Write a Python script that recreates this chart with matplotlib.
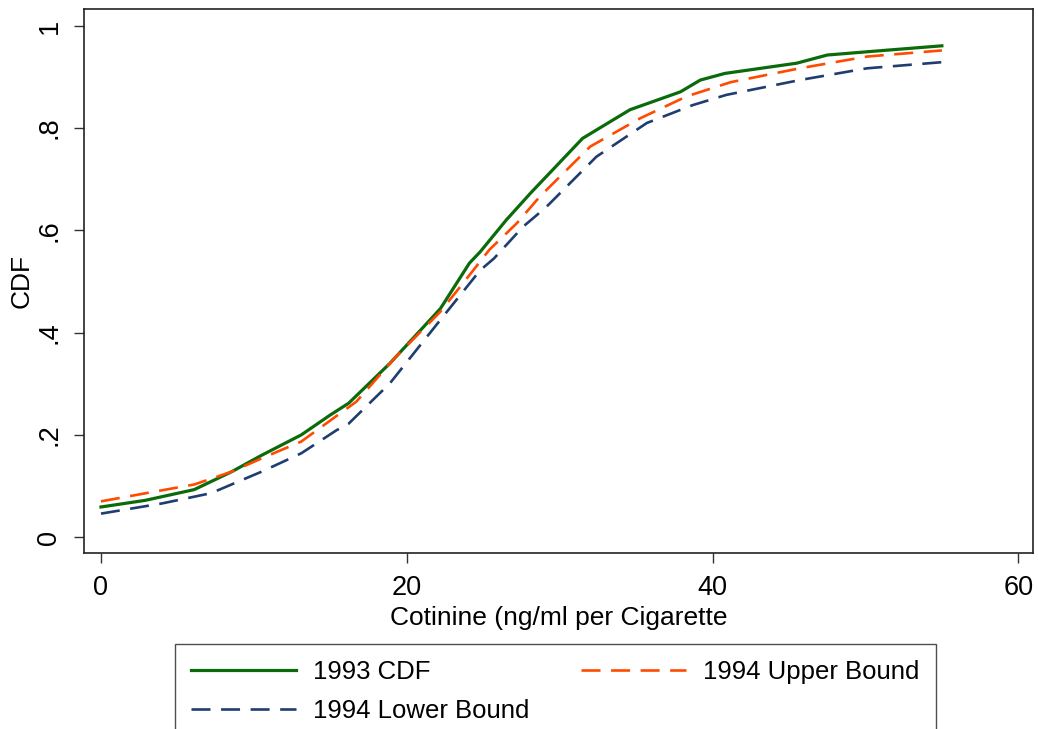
import matplotlib
matplotlib.use("Agg")
import matplotlib.pyplot as plt

# Police proche d'Arial
plt.rcParams['font.family'] = ['Liberation Sans', 'DejaVu Sans']

# Valeurs
x_1993 = [0, 2.9, 6.1, 8.55, 10.5, 13.1, 15.0, 16.2, 18.9, 22.2, 24.1, 24.8,
          26.5, 28.1, 31.5, 34.6, 37.9, 39.2, 40.8, 45.5, 47.5, 51.2, 55]
cdf_1993 = [0.059, 0.072, 0.093, 0.128, 0.160, 0.200, 0.239, 0.262, 0.340,
            0.447, 0.536, 0.558, 0.620, 0.673, 0.780, 0.836, 0.871, 0.894,
            0.907, 0.927, 0.943, 0.952, 0.961]

x_upper = [0, 3.5, 6.1, 8.55, 10.5, 13.1, 16.7, 19.3, 22.2, 24.35, 25.4,
           27.2, 28.7, 32.0, 35.25, 38.3, 41.2, 45.7, 50.1, 55]
cdf_upper = [0.070, 0.089, 0.103, 0.128, 0.154, 0.187, 0.265, 0.353, 0.441,
             0.522, 0.562, 0.614, 0.666, 0.764, 0.819, 0.862, 0.890, 0.917,
             0.940, 0.952]

x_lower = [0, 4.0, 7.2, 10.5, 13.1, 15.4, 16.2, 18.9, 22.2, 24.8, 25.7,
           27.6, 29.1, 32.4, 35.7, 38.7, 40.9, 45.7, 50.1, 55]
cdf_lower = [0.046, 0.066, 0.086, 0.128, 0.164, 0.209, 0.222, 0.301, 0.425,
             0.522, 0.545, 0.607, 0.645, 0.744, 0.810, 0.845, 0.865, 0.894,
             0.917, 0.929]

x_ticks = [0, 20, 40, 60]
y_ticks = [0, 0.2, 0.4, 0.6, 0.8, 1]
y_tick_labels = ['0', '.2', '.4', '.6', '.8', '1']

W, H = 1038, 729
fig = plt.figure(figsize=(W / 100, H / 100), dpi=100)
ax = fig.add_axes([84 / W, 1 - 553 / H, (1033 - 84) / W, (553 - 8.5) / H])

ax.plot(x_1993, cdf_1993, color='#0b6b0b', lw=2.3, label='1993 CDF')
ax.plot(x_upper, cdf_upper, color='#ff4a00', lw=1.9,
        linestyle=(0, (7.2, 4.0)), label='1994 Upper Bound')
ax.plot(x_lower, cdf_lower, color='#1f3d70', lw=1.9,
        linestyle=(0, (7.2, 4.0)), label='1994 Lower Bound')

ax.set_xlim(-1.11, 60.96)
ax.set_ylim(-0.031, 1.034)
ax.set_xticks(x_ticks)
ax.set_yticks(y_ticks)
ax.set_yticklabels(y_tick_labels, rotation=90, va='center')

ax.tick_params(axis='both', labelsize=19.5, length=7.5, width=1.0,
               color='#333333', direction='out')
ax.tick_params(axis='x', pad=8)
ax.tick_params(axis='y', pad=8)
for s in ax.spines.values():
    s.set_linewidth(1.2)
    s.set_color('#222222')

ax.set_xlabel('Cotinine (ng/ml per Cigarette', fontsize=19)
ax.set_ylabel('CDF', fontsize=19, labelpad=2)

# Légende sur deux colonnes sous le graphique (coupée en bas comme l'original)
order = [0, 2, 1]
handles, labels = ax.get_legend_handles_labels()
fig.legend([handles[i] for i in order], [labels[i] for i in order],
           loc='upper left', bbox_to_anchor=(175 / W, 1 - 644 / H),
           ncol=2, fontsize=18.5, frameon=True, fancybox=False,
           edgecolor='#222222', handlelength=4.1, handletextpad=0.66,
           columnspacing=2.0, borderpad=0.62, labelspacing=0.58,
           borderaxespad=0)

fig.savefig('out.png', dpi=100)
